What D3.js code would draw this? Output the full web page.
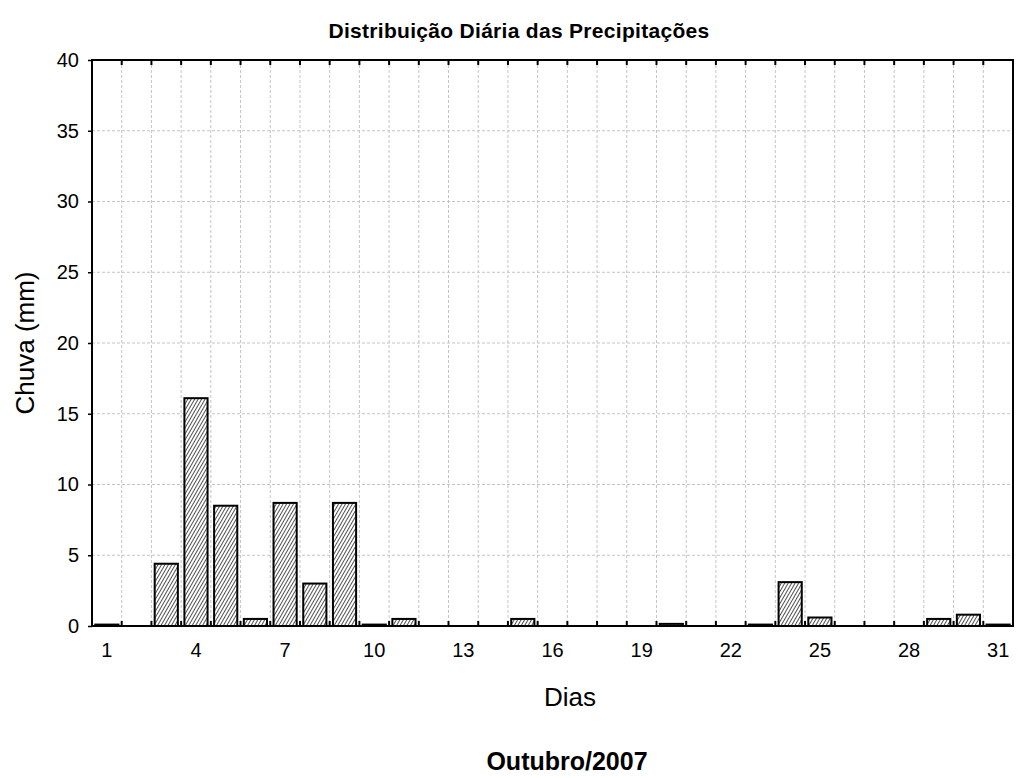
<!DOCTYPE html>
<html>
<head>
<meta charset="utf-8">
<script src="https://cdn.jsdelivr.net/npm/d3@7"></script>
<style>
  body { margin: 0; background: #fff; }
  text { font-family: "Liberation Sans", Arial, sans-serif; fill: #000; }
</style>
</head>
<body>
<div id="chart"></div>
<script>
'use strict';

// daily rainfall, October 2007
var days = d3.range(1, 32);
var rain = [0.1, 0, 4.4, 16.1, 8.5, 0.5, 8.7, 3.0, 8.7, 0.1,
            0.5, 0, 0, 0, 0.5, 0, 0, 0, 0, 0.15,
            0, 0, 0.1, 3.1, 0.6, 0, 0, 0, 0.5, 0.8, 0.1];
var dayLabels = [1, 4, 7, 10, 13, 16, 19, 22, 25, 28, 31];
var yTicks = [0, 5, 10, 15, 20, 25, 30, 35, 40];

var W = 1018, H = 778;
var margin = {top: 60, right: 5, bottom: 152, left: 92};
var iw = W - margin.left - margin.right,
    ih = H - margin.top - margin.bottom;

var svg = d3.select("#chart").append("svg")
  .attr("width", W).attr("height", H);

// hatch fill for the bars
var pat = svg.append("defs").append("pattern")
  .attr("id", "hatch")
  .attr("patternUnits", "userSpaceOnUse")
  .attr("width", 3).attr("height", 3)
  .attr("patternTransform", "rotate(30)");
pat.append("rect").attr("width", 3).attr("height", 3).attr("fill", "#fff");
pat.append("line").attr("x1", 0).attr("y1", 0).attr("x2", 0).attr("y2", 3)
  .attr("stroke", "#333").attr("stroke-width", 1.7);

var g = svg.append("g").attr("transform", "translate(" + margin.left + "," + margin.top + ")");

var x = d3.scaleBand().domain(days).range([0, iw])
  .paddingInner(0.22).paddingOuter(0.11);
var y = d3.scaleLinear().domain([0, 40]).range([ih, 0]);

//cell boundaries between the days
function edge(d){ return x(d) - x.step() * x.paddingInner() / 2; }
var edges = days.slice(1);

// grid
g.append("g").attr("class", "grid").selectAll("line.v").data(edges).enter().append("line")
  .attr("x1", edge).attr("x2", edge).attr("y1", 0).attr("y2", ih)
  .attr("stroke", "#c4c4c4").attr("stroke-dasharray", "3,2");
g.append("g").selectAll("line").data(yTicks.slice(1, -1)).enter().append("line")
  .attr("x1", 0).attr("x2", iw).attr("y1", y).attr("y2", y)
  .attr("stroke", "#c4c4c4").attr("stroke-dasharray", "3,2");

// bars
g.append("g").selectAll("rect").data(days.filter(function(d){ return rain[d - 1] > 0; }))
  .enter().append("rect")
  .attr("x", function(d){ return x(d); })
  .attr("width", x.bandwidth())
  .attr("y", function(d){ return y(rain[d - 1]); })
  .attr("height", function(d){ return ih - y(rain[d - 1]); })
  .attr("fill", "url(#hatch)")
  .attr("stroke", "#000").attr("stroke-width", 2);

// inner ticks on top and bottom
g.append("g").selectAll("line").data(edges).enter().append("line")
  .attr("x1", edge).attr("x2", edge).attr("y1", ih).attr("y2", ih - 5)
  .attr("stroke", "#000").attr("stroke-width", 2);
g.append("g").selectAll("line").data(edges).enter().append("line")
  .attr("x1", edge).attr("x2", edge).attr("y1", 0).attr("y2", 5)
  .attr("stroke", "#000").attr("stroke-width", 2);

// frame
g.append("rect").attr("width", iw).attr("height", ih)
  .attr("fill", "none").attr("stroke", "#000").attr("stroke-width", 2);

// axes
var xAxis = g.append("g").attr("transform", "translate(0," + ih + ")")
  .call(d3.axisBottom(x).tickValues(dayLabels).tickSize(0).tickPadding(17));
xAxis.select(".domain").remove();
xAxis.selectAll("text").style("font-size", "20px").attr("fill", "#000");

var yAxis = g.append("g")
  .call(d3.axisLeft(y).tickValues(yTicks).tickSize(4).tickPadding(9));
yAxis.select(".domain").remove();
yAxis.selectAll("line").attr("stroke", "#000").attr("stroke-width", 1.5);
yAxis.selectAll("text").style("font-size", "20px").attr("fill", "#000");

// titles
svg.append("text").attr("x", 519).attr("y", 38).attr("text-anchor", "middle")
  .style("font-size", "21px").style("font-weight", "bold").style("letter-spacing", "0.3px")
  .text("Distribuição Diária das Precipitações");
svg.append("text").attr("x", 570).attr("y", 706).attr("text-anchor", "middle")
  .style("font-size", "26px").text("Dias");
svg.append("text").attr("x", 567).attr("y", 770).attr("text-anchor", "middle")
  .style("font-size", "25px").style("font-weight", "bold").text("Outubro/2007");
svg.append("text")
  .attr("transform", "translate(34," + (margin.top + ih / 2) + ") rotate(-90)")
  .attr("text-anchor", "middle").style("font-size", "26px").text("Chuva (mm)");
</script>
</body>
</html>
